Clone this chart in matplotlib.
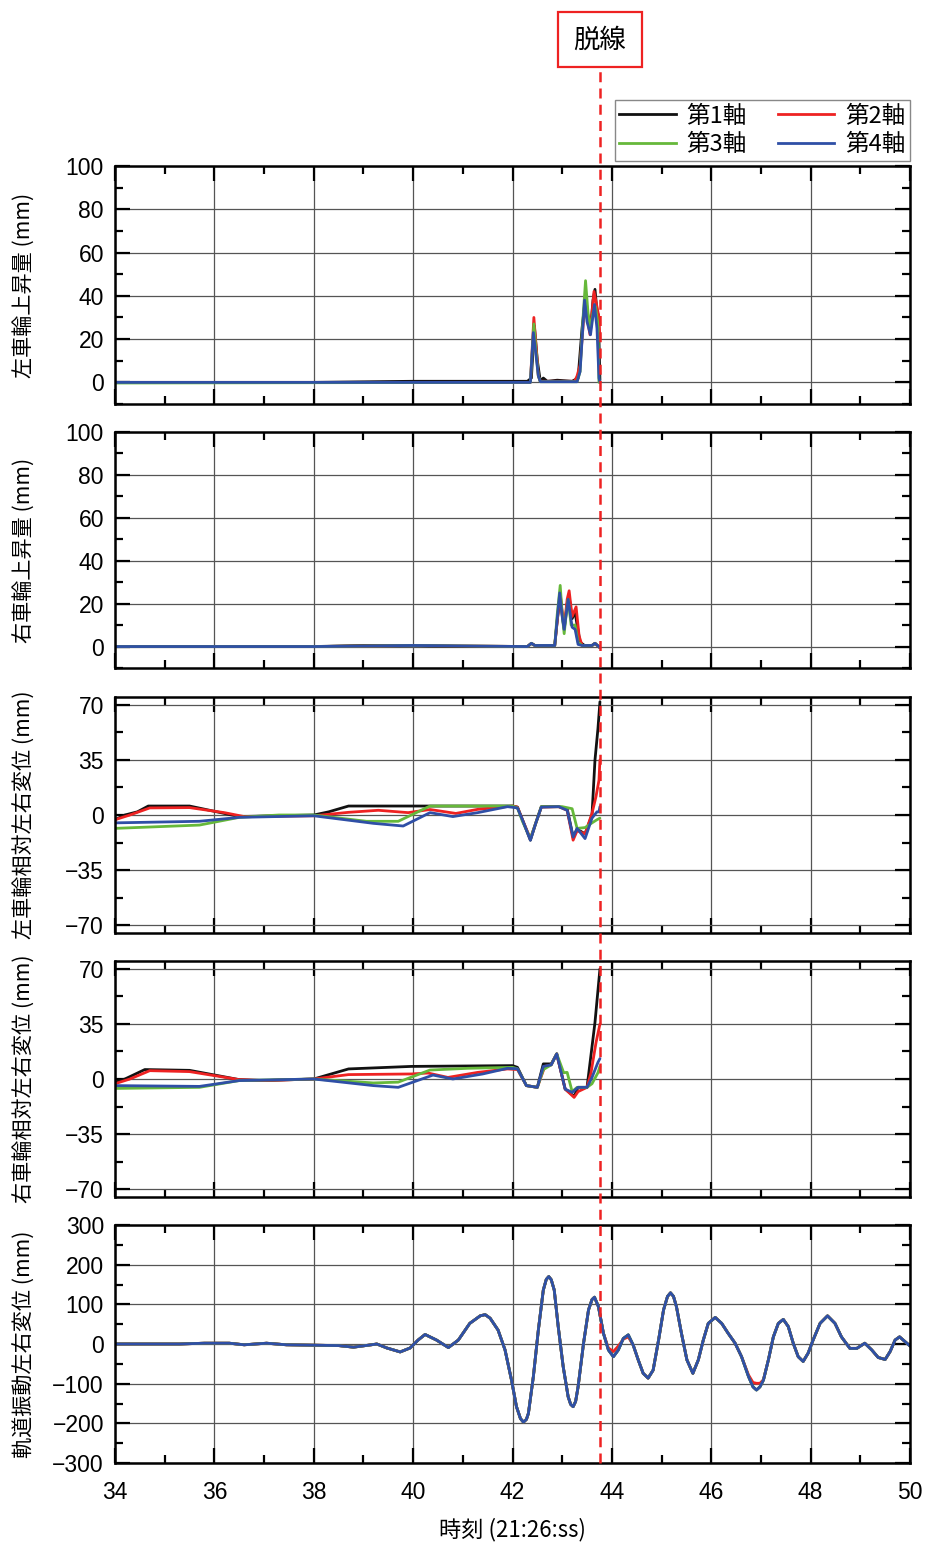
import matplotlib
matplotlib.use("Agg")
import matplotlib.pyplot as plt
from matplotlib.lines import Line2D
from matplotlib.patches import Rectangle
from matplotlib.ticker import MultipleLocator
import numpy as np

plt.rcParams['font.family'] = ['Liberation Sans', 'Noto Sans CJK JP']
JP = ['Noto Sans CJK JP', 'DejaVu Sans']

# ---- data ----
derail_t = 43.76
axle_names = ['第1軸', '第2軸', '第3軸', '第4軸']
axle_colors = ['#111111', '#ee2222', '#66b83a', '#2f4fa6']

# left wheel lift (mm)
liftL_t1 = [34, 38, 40, 42.3, 42.38, 42.44, 42.5, 42.56, 42.62, 42.7, 42.9, 43.2, 43.32, 43.4, 43.47, 43.52, 43.57, 43.62, 43.66, 43.7, 43.73, 43.75, 43.76]
liftL_v1 = [0, 0, 0.5, 0.5, 2, 26, 10, 0.5, 2, 0.5, 1, 0.5, 2, 25, 40, 30, 24, 38, 43, 33, 31, 10, 1]
liftL_t2 = [34, 42.36, 42.43, 42.47, 42.52, 42.56, 43.25, 43.3, 43.36, 43.45, 43.5, 43.56, 43.64, 43.7, 43.74, 43.76]
liftL_v2 = [0, 0, 30, 18, 3, 0.5, 0.5, 3, 8, 35, 30, 22, 42, 35, 30, 20]
liftL_t3 = [34, 42.36, 42.43, 42.47, 42.52, 42.56, 43.3, 43.36, 43.42, 43.47, 43.52, 43.57, 43.62, 43.67, 43.72, 43.74]
liftL_v3 = [-0.3, 0, 27, 15, 3, 0.3, 0.3, 5, 30, 47, 32, 25, 32, 35, 27, 0]
liftL_t4 = [34, 42.36, 42.42, 42.46, 42.52, 42.56, 43.3, 43.36, 43.45, 43.5, 43.57, 43.65, 43.7, 43.74, 43.76]
liftL_v4 = [0, 0, 23, 15, 3, 0.3, 0.3, 5, 38, 28, 22, 36, 25, 2, 0]

# right wheel lift (mm)
liftR_t1 = [34, 38, 39, 40, 41, 42.3, 42.38, 42.45, 42.85, 42.9, 42.96, 43.0, 43.04, 43.1, 43.14, 43.2, 43.26, 43.3, 43.36, 43.45, 43.6, 43.66, 43.76]
liftR_v1 = [0, 0, 0.5, 0.5, 0, 0, 1.5, 0.5, 0.5, 12, 24, 15, 8, 20, 23, 13, 16, 10, 2, 0.5, 0.5, 1.5, -0.5]
liftR_t2 = [34, 38, 40, 42.3, 42.38, 42.45, 42.85, 42.9, 42.96, 43.0, 43.04, 43.1, 43.14, 43.2, 43.28, 43.34, 43.4, 43.6, 43.66, 43.76]
liftR_v2 = [0, 0, 0.5, 0, 1.5, 0.5, 0.5, 12, 25, 16, 9, 22, 26, 14, 18.5, 5, 0.5, 0.5, 1.5, -0.5]
liftR_t3 = [34, 38, 40, 42.3, 42.38, 42.45, 42.85, 42.9, 42.96, 43.0, 43.04, 43.08, 43.12, 43.18, 43.26, 43.32, 43.4, 43.6, 43.66, 43.76]
liftR_v3 = [0, 0, 0.5, 0, 1.5, 0.5, 0.5, 15, 28.5, 15, 6, 15, 22, 10, 10, 2, 0.5, 0.5, 1.5, -0.5]
liftR_t4 = [34, 38, 40, 42.3, 42.38, 42.45, 42.85, 42.9, 42.95, 43.0, 43.04, 43.08, 43.12, 43.2, 43.26, 43.32, 43.4, 43.6, 43.66, 43.76]
liftR_v4 = [0, 0, 0.5, 0, 1.5, 0.5, 0.5, 13, 25, 14, 8, 15, 22, 9, 8, 1, 0.5, 0.5, 1.5, -0.5]

# left wheel relative lateral displacement (mm)
relL_t1 = [34, 34.2, 34.45, 34.67, 35.5, 36.5, 38.0, 38.3, 38.7, 42.0, 42.1, 42.2, 42.36, 42.47, 42.58, 42.93, 43.1, 43.22, 43.3, 43.46, 43.6, 43.66, 43.72, 43.76]
relL_v1 = [-3, 0, 2, 5.7, 5.7, -1, 0, 2, 5.7, 5.7, 5, -3, -16, -5, 5.3, 5.3, 4, -14, -9, -12, 0, 35, 55, 72]
relL_t2 = [34, 34.3, 34.7, 35.5, 36.2, 36.6, 38.0, 38.7, 39.3, 39.9, 40.34, 40.86, 41.3, 42.0, 42.1, 42.2, 42.36, 42.47, 42.58, 42.93, 43.1, 43.22, 43.3, 43.46, 43.6, 43.68, 43.74, 43.76]
relL_v2 = [-3, 0, 4.5, 4.7, 1.5, -1, -0.5, 1.7, 3, 1.5, 3.5, 1, 3.6, 5.7, 5, -3, -15, -5, 5, 5.3, 3, -16, -10, -12, 1, 11.7, 22, 35]
relL_t3 = [34, 35.7, 36.5, 37.3, 38.0, 39.06, 39.7, 40.34, 42.0, 42.1, 42.2, 42.36, 42.47, 42.58, 43.0, 43.2, 43.3, 43.46, 43.6, 43.7, 43.76]
relL_v3 = [-8.5, -6.4, -1.5, 0, 0, -4, -4, 5.7, 5.7, 4.5, -4, -15, -5, 5.3, 5.3, 4, -8.5, -8, -5, -3, -2]
relL_t4 = [34, 35.7, 36.5, 38.0, 39.2, 39.8, 40.34, 40.8, 41.3, 41.9, 42.1, 42.2, 42.36, 42.47, 42.58, 42.93, 43.1, 43.22, 43.3, 43.46, 43.6, 43.7, 43.74, 43.76]
relL_v4 = [-5, -4, -1.5, -0.5, -5.3, -7, 1.5, -1, 1.5, 5.3, 4.5, -3, -16, -5, 5, 5.3, 3, -14, -8.5, -15, -2, 2, 2, 5.3]

# right wheel relative lateral displacement (mm)
relR_t1 = [34, 34.2, 34.6, 35.5, 36.5, 37.0, 38.0, 38.7, 39.96, 42.0, 42.1, 42.28, 42.5, 42.62, 42.78, 42.89, 43.06, 43.24, 43.32, 43.5, 43.66, 43.76]
relR_v1 = [-2, 0, 6, 5.5, -0.4, -1, 0, 6.4, 8, 8.5, 7.4, -4.2, -5.3, 9.6, 9.6, 16, -6.4, -11, -5.3, -5.3, 36, 70]
relR_t2 = [34, 34.3, 34.7, 35.5, 36.5, 37.0, 38.0, 38.7, 39.96, 40.3, 40.7, 41.3, 41.9, 42.1, 42.28, 42.5, 42.65, 42.78, 42.89, 43.06, 43.24, 43.32, 43.5, 43.58, 43.68, 43.76]
relR_v2 = [-3, 0, 5.3, 4.7, -0.4, -1, 0, 2.8, 3.2, 3.8, 1, 4.2, 6.4, 6, -4.2, -5.3, 8, 9, 16, -6.4, -11.7, -8, -5.3, 4, 23, 35]
relR_t3 = [34, 35.7, 36.5, 38.0, 39.2, 39.7, 40.34, 41.1, 42.0, 42.1, 42.28, 42.5, 42.62, 42.78, 42.89, 43.03, 43.1, 43.2, 43.3, 43.5, 43.6, 43.72, 43.76]
relR_v3 = [-6, -5.3, -1, 0, -2.5, -2, 5.7, 6.8, 7.4, 6.5, -4.2, -5.3, 6, 9, 16, 4, 4.2, -8, -5.3, -5.3, -3, 4, 8]
relR_t4 = [34, 35.7, 36.5, 38.0, 39.2, 39.7, 40.4, 40.8, 41.4, 41.9, 42.1, 42.28, 42.5, 42.62, 42.78, 42.89, 43.06, 43.2, 43.32, 43.5, 43.6, 43.72, 43.76]
relR_v4 = [-4.2, -4.7, -1, 0, -4.2, -5.3, 2.5, 0, 3.2, 6.8, 6.5, -4.2, -5.3, 8, 9, 16, -6.4, -8.5, -5.3, -5.3, 1, 10.6, 13]

# track lateral vibration displacement (mm)
track_t = [34, 35.3, 35.8, 36.3, 36.6, 37.05, 37.45, 38.0, 38.5, 38.8, 39.1, 39.27, 39.47, 39.74, 39.94, 40.1,
           40.24, 40.47, 40.71, 40.91, 41.14, 41.35, 41.45, 41.55, 41.71, 41.85, 41.98, 42.08, 42.16, 42.22, 42.28,
           42.32, 42.42, 42.52, 42.62, 42.68, 42.73, 42.78, 42.84, 42.92, 43.02, 43.12, 43.17, 43.22, 43.27,
           43.32, 43.43, 43.53, 43.6, 43.65, 43.73, 43.83,
           43.93, 44.03, 44.13, 44.23, 44.33, 44.43, 44.53, 44.63, 44.73, 44.83, 44.94, 45.04, 45.12, 45.18, 45.24,
           45.30, 45.40, 45.51, 45.63, 45.74, 45.84, 45.94, 46.08, 46.21, 46.34, 46.48, 46.61, 46.75, 46.84,
           46.91, 46.98, 47.05, 47.15, 47.25, 47.35, 47.45, 47.55, 47.65, 47.75, 47.85, 47.95, 48.05, 48.19,
           48.34, 48.49, 48.62, 48.79, 48.93, 49.09, 49.23, 49.36, 49.50, 49.60, 49.70, 49.79, 49.90, 50.0]
track_v = [0, 0, 2, 2, -2, 2, -2, -3, -4, -8, -3, 0, -10, -20, -10, 10,
           24, 10, -9, 10, 52, 71, 74, 65, 35, -15, -91, -158, -188, -197, -190,
           -175, -82, 35, 136, 163, 170, 162, 136, 44, -57, -133, -152, -158, -145,
           -108, 2, 86, 112, 118, 94, 27,
           -15, -32, -15, 14, 23, -3, -40, -74, -86, -66, 10, 86, 120, 129, 120,
           94, 27, -40, -74, -40, 10, 52, 67, 52, 27, 2, -32, -82, -108,
           -116, -108, -91, -40, 18, 52, 62, 44, 2, -32, -44, -23, 10, 52,
           71, 52, 18, -11, -11, 2, -15, -34, -39, -19, 10, 18, 6, -5]
# axle 2 departs from the others in a few places
track_red_fix = {43.93: -10, 44.03: -19, 44.13: -5, 44.23: 12, 44.33: 18,
                 46.75: -78, 46.84: -97, 46.91: -99, 46.98: -99, 47.05: -90}
track_v2 = [track_red_fix.get(t, v) for t, v in zip(track_t, track_v)]

panels = [
    ('左車輪上昇量 (mm)', (-10, 100), 20, 10,
     [(liftL_t1, liftL_v1), (liftL_t2, liftL_v2), (liftL_t3, liftL_v3), (liftL_t4, liftL_v4)]),
    ('右車輪上昇量 (mm)', (-10, 100), 20, 10,
     [(liftR_t1, liftR_v1), (liftR_t2, liftR_v2), (liftR_t3, liftR_v3), (liftR_t4, liftR_v4)]),
    ('左車輪相対左右変位 (mm)', (-75, 75), 35, 17.5,
     [(relL_t1, relL_v1), (relL_t2, relL_v2), (relL_t3, relL_v3), (relL_t4, relL_v4)]),
    ('右車輪相対左右変位 (mm)', (-75, 75), 35, 17.5,
     [(relR_t1, relR_v1), (relR_t2, relR_v2), (relR_t3, relR_v3), (relR_t4, relR_v4)]),
    ('軌道振動左右変位 (mm)', (-300, 300), 100, 50,
     [(track_t, track_v), (track_t, track_v2), (track_t, track_v), (track_t, track_v)]),
]

# ---- layout (pixel boxes of the reference) ----
W, H = 927, 1548
boxes = [(166, 404), (432, 668), (697, 933), (961, 1197), (1225, 1463)]
x0, x1 = 115, 910

fig = plt.figure(figsize=(W / 100, H / 100), dpi=100)
axes = []
for (top, bot), (ylab, ylim, major, minor, series) in zip(boxes, panels):
    ax = fig.add_axes([x0 / W, 1 - bot / H, (x1 - x0) / W, (bot - top) / H])
    for (t, v), c in zip(series, axle_colors):
        ax.plot(t, v, color=c, lw=2.0, solid_joinstyle='round', solid_capstyle='round')
    ax.set_xlim(34, 50)
    ax.set_ylim(*ylim)
    ax.xaxis.set_major_locator(MultipleLocator(2))
    ax.xaxis.set_minor_locator(MultipleLocator(1))
    lo = -(abs(ylim[0]) // major) * major
    ax.set_yticks(np.arange(lo, ylim[1] + 0.01, major))
    ax.yaxis.set_minor_locator(MultipleLocator(minor))
    ax.grid(True, which='major', color='#555555', lw=0.9)
    ax.tick_params(which='both', direction='in', top=True, right=True, width=1.6,
                   labelsize=16.5, pad=8)
    ax.tick_params(which='major', length=11)
    ax.tick_params(which='minor', length=6)
    ax.tick_params(axis='x', pad=13)
    for s in ax.spines.values():
        s.set_linewidth(1.8)
    ax.set_ylabel(ylab, family=JP, fontsize=15.2)
    ax.yaxis.set_label_coords(-0.1, 0.5)
    if len(axes) < 4:
        ax.tick_params(axis='x', labelbottom=False)
    axes.append(ax)

axes[-1].set_xlabel('時刻 (21:26:ss)', family=JP, fontsize=16, labelpad=10)

# derailment marker
xf = fig.transFigure.inverted().transform(axes[-1].transData.transform((derail_t, 0)))[0]
fig.add_artist(Line2D([xf, xf], [1 - boxes[-1][1] / H, 1 - 67 / H], transform=fig.transFigure,
                      color='#ee2222', lw=1.8, dashes=(4, 2.5), zorder=10))
bw, bh = 84 / W, 55 / H
fig.add_artist(Rectangle((xf - bw / 2, 1 - 67 / H), bw, bh, transform=fig.transFigure,
                         facecolor='white', edgecolor='#ee2222', lw=1.6))
fig.text(xf, 1 - 40 / H, '脱線', family=JP, fontsize=19, ha='center', va='center')

# legend
handles = [Line2D([], [], color=c, lw=2.0) for c in axle_colors]
order = [0, 2, 1, 3]
fig.legend([handles[i] for i in order], [axle_names[i] for i in order], ncol=2,
           loc='upper right', bbox_to_anchor=(x1 / W, 1 - 100 / H), prop={'family': JP, 'size': 17},
           frameon=True, fancybox=False, edgecolor='#888888', framealpha=1,
           handlelength=2.4, columnspacing=1.3, handletextpad=0.45, labelspacing=0.22,
           borderpad=0.2, borderaxespad=0)

fig.savefig('out.png', dpi=100)
